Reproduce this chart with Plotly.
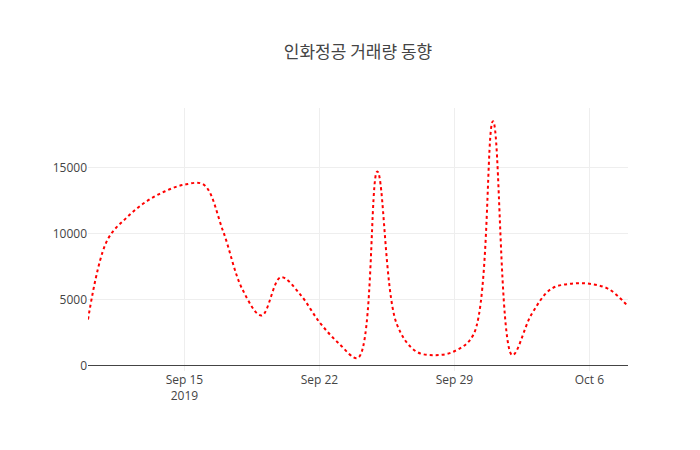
import plotly.graph_objects as go
import pandas as pd

dates = pd.date_range("2019-09-10", "2019-10-08", freq="D").strftime("%Y-%m-%d").tolist()
volume = [3500, 9500, 11200, 12400, 13200, 13700, 13700, 10200, 5800, 3800,
          6700, 5400, 3300, 1700, 600, 14700, 3200, 1100, 800, 1100,
          2400, 18500, 800, 3900, 5800, 6200, 6200, 5800, 4500]

fig = go.Figure(go.Scatter(x=dates, y=volume, mode="lines",
                           line=dict(color="red", dash="dot", width=2, shape="spline")))
fig.update_layout(template="none", width=700, height=450,
                  font=dict(color="#444"),
                  title=dict(text="인화정공 거래량 동향", x=0.5,
                             font=dict(family="Noto Sans CJK KR", size=17)),
                  margin=dict(l=80, r=80, t=100, b=87), showlegend=False)
fig.update_xaxes(showgrid=True, gridcolor="#eee", automargin=False)
fig.update_yaxes(zeroline=True, zerolinecolor="#444", zerolinewidth=1,
                 gridcolor="#eee", tickformat="d", automargin=False)
fig.write_html("out.html")
